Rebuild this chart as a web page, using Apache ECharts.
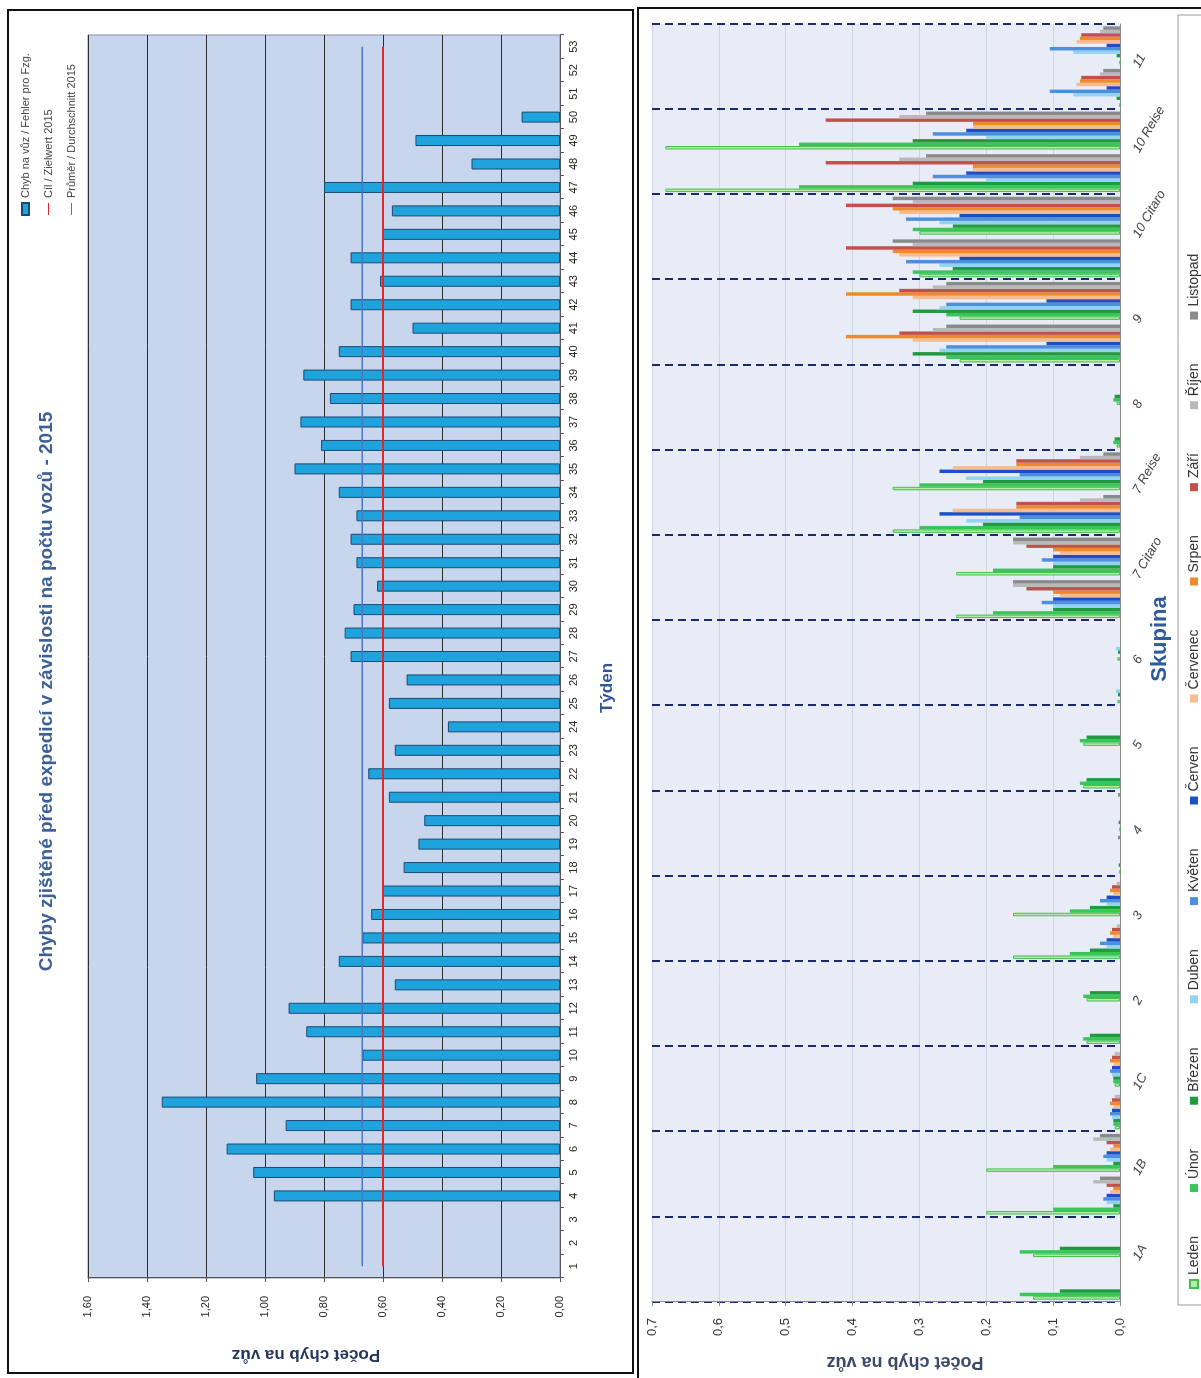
<!DOCTYPE html>
<html>
<head>
<meta charset="utf-8">
<script src="https://cdn.jsdelivr.net/npm/echarts@6/dist/echarts.min.js"></script>
<style>
  html, body { margin: 0; padding: 0; background: #fff; width: 1201px; height: 1378px; overflow: hidden; }
  .panel { position: absolute; box-sizing: border-box; border: 2px solid #111; background: #fff; }
  #panelA { left: 7px; top: 9px; width: 627px; height: 1365px; }
  #panelB { left: 637px; top: 7px; width: 600px; height: 1400px; }
  /* both charts are laid out landscape and turned a quarter turn counter-clockwise */
  .rot { position: absolute; transform-origin: 0 0; transform: rotate(-90deg); }
  #chartA { left: 10px; top: 1371px; width: 1359px; height: 621px; }
  #chartB { left: 639px; top: 1378px; width: 1368px; height: 562px; }
</style>
</head>
<body>
<div class="panel" id="panelA"></div>
<div class="panel" id="panelB"></div>
<div class="rot" id="chartA"></div>
<div class="rot" id="chartB"></div>
<script>
// ---------- weekly errors per car, 2015 ----------
const weeks = ['1','2','3','4','5','6','7','8','9','10','11','12','13','14','15','16','17','18',
  '19','20','21','22','23','24','25','26','27','28','29','30','31','32','33','34','35','36',
  '37','38','39','40','41','42','43','44','45','46','47','48','49','50','51','52','53'];
const errorsPerCar = [null, null, null, 0.97, 1.04, 1.13, 0.93, 1.35, 1.03, 0.67, 0.86, 0.92,
  0.56, 0.75, 0.67, 0.64, 0.60, 0.53, 0.48, 0.46, 0.58, 0.65, 0.56, 0.38, 0.58, 0.52, 0.71,
  0.73, 0.70, 0.62, 0.69, 0.71, 0.69, 0.75, 0.90, 0.81, 0.88, 0.78, 0.87, 0.75, 0.50, 0.71,
  0.61, 0.71, 0.60, 0.57, 0.80, 0.30, 0.49, 0.13, null, null, null];
const targetValue = 0.60;   // Cíl / Zielwert 2015
const averageValue = 0.67;  // Průměr / Durchschnitt 2015
const weeklyAxis = { min: 0, max: 1.6, interval: 0.2 };

// ---------- errors per car by group and month ----------
const groups = ['1A','1B','1C','2','3','4','5','6','7 Citaro','7 Reise','8','9','10 Citaro','10 Reise','11'];
const slots = ['1A a','1A b','1B a','1B b','1C a','1C b','2 a','2 b','3 a','3 b','4 a','4 b','5 a','5 b',
  '6 a','6 b','7C a','7C b','7R a','7R b','8 a','8 b','9 a','9 b','10C a','10C b','10R a','10R b','11 a','11 b'];
const months = ['Leden','Únor','Březen','Duben','Květen','Červen','Červenec','Srpen','Září','Říjen','Listopad'];
const leden    = [0.13,0.13, 0.20,0.20, 0.008,0.008, 0.05,0.05, 0.16,0.16, 0,0, 0.055,0.055, 0.004,0.004, 0.245,0.245, 0.34,0.34, 0.005,0.005, 0.24,0.24, 0.30,0.30, 0.68,0.68, 0,0];
const unor     = [0.15,0.15, 0.10,0.10, 0.010,0.010, 0.055,0.055, 0.075,0.075, 0,0, 0.06,0.06, 0,0, 0.19,0.19, 0.30,0.30, 0.010,0.010, 0.26,0.26, 0.31,0.31, 0.48,0.48, 0,0];
const brezen   = [0.09,0.09, 0.01,0.01, 0.010,0.010, 0.045,0.045, 0.045,0.045, 0.002,0.002, 0.05,0.05, 0.003,0.003, 0.10,0.10, 0.205,0.205, 0.008,0.008, 0.31,0.31, 0.25,0.25, 0.31,0.31, 0.005,0.005];
const duben    = [0,0, 0.02,0.02, 0.012,0.012, 0,0, 0.02,0.02, 0,0, 0,0, 0.006,0.006, 0.10,0.10, 0.23,0.23, 0,0, 0.27,0.27, 0.27,0.27, 0.20,0.20, 0.07,0.07];
const kveten   = [0,0, 0.025,0.025, 0.015,0.015, 0,0, 0.03,0.03, 0,0, 0,0, 0,0, 0.117,0.117, 0.15,0.15, 0,0, 0.26,0.26, 0.32,0.32, 0.28,0.28, 0.105,0.105];
const cerven   = [0,0, 0.02,0.02, 0.012,0.012, 0,0, 0.02,0.02, 0,0, 0,0, 0,0, 0.10,0.10, 0.27,0.27, 0,0, 0.11,0.11, 0.24,0.24, 0.23,0.23, 0.02,0.02];
const cervenec = [0,0, 0.015,0.015, 0.010,0.010, 0,0, 0.01,0.01, 0,0, 0,0, 0,0, 0.09,0.09, 0.25,0.25, 0,0, 0.31,0.31, 0.33,0.33, 0.22,0.22, 0.065,0.065];
const srpen    = [0,0, 0.01,0.01, 0.015,0.015, 0,0, 0.015,0.015, 0,0, 0,0, 0,0, 0.10,0.10, 0.155,0.155, 0,0, 0.41,0.41, 0.34,0.34, 0.22,0.22, 0.06,0.06];
const zari     = [0,0, 0.02,0.02, 0.012,0.012, 0,0, 0.012,0.012, 0,0, 0,0, 0,0, 0.14,0.14, 0.155,0.155, 0,0, 0.33,0.33, 0.41,0.41, 0.44,0.44, 0.058,0.058];
const rijen    = [0,0, 0.04,0.04, 0.008,0.008, 0,0, 0.005,0.005, 0,0, 0,0, 0,0, 0.16,0.16, 0.06,0.06, 0,0, 0.28,0.28, 0.31,0.31, 0.33,0.33, 0.03,0.03];
const listopad = [0,0, 0.03,0.03, 0,0, 0,0, 0,0, 0.003,0.003, 0,0, 0,0, 0.16,0.16, 0.025,0.025, 0,0, 0.26,0.26, 0.34,0.34, 0.29,0.29, 0.025,0.025];
const monthValues = [leden, unor, brezen, duben, kveten, cerven, cervenec, srpen, zari, rijen, listopad];
const monthColors = ['#b8ecae','#39c55a','#1f9a3c','#93d3f2','#4d8fdc','#1c4fc6',
  '#f6bc90','#ee8a2c','#c2504c','#b9b9b9','#8a8a8a'];
const groupAxis = { min: 0, max: 0.7, interval: 0.1 };

const FONT = '"Liberation Sans", Arial, sans-serif';
const LINE_ICON = 'path://M0,0 L24,0 L24,2 L0,2 Z';

// ---------- left chart ----------
const chartA = echarts.init(document.getElementById('chartA'), null, { renderer: 'canvas' });
chartA.setOption({
  animation: false,
  textStyle: { fontFamily: FONT },
  title: {
    text: 'Chyby zjištěné před expedicí v závislosti na počtu vozů - 2015',
    left: 'center', top: 22,
    textStyle: { fontSize: 19, fontWeight: 'bold', color: '#3b5f96', fontFamily: FONT }
  },
  legend: {
    orient: 'vertical', left: 1150, top: 5, itemGap: 12,
    itemWidth: 12, itemHeight: 7,
    textStyle: { fontSize: 11, color: '#444', fontFamily: FONT },
    data: [
      { name: 'Chyb na vůz / Fehler pro Fzg.', icon: 'rect' },
      { name: 'Cíl / Zielwert 2015', icon: LINE_ICON },
      { name: 'Průměr / Durchschnitt 2015', icon: LINE_ICON }
    ]
  },
  grid: { left: 93, right: 23, top: 78, bottom: 71, show: true,
          backgroundColor: '#c7d6ed', borderColor: '#8090a8', borderWidth: 1 },
  xAxis: {
    type: 'category', data: weeks,
    axisLine: { lineStyle: { color: '#555' } },
    axisTick: { show: true, length: 4, lineStyle: { color: '#555' } },
    axisLabel: { interval: 0, fontSize: 11, color: '#222', margin: 8 }
  },
  yAxis: {
    type: 'value', min: weeklyAxis.min, max: weeklyAxis.max, interval: weeklyAxis.interval,
    axisLine: { show: true, lineStyle: { color: '#555' } },
    axisTick: { show: true, length: 4 },
    axisLabel: { fontSize: 11, color: '#222', margin: 18,
                 formatter: v => v.toFixed(2).replace('.', ',') },
    splitLine: { lineStyle: { color: '#2e2e2e', width: 1 } }
  },
  graphic: [
    { type: 'text', x: 16, y: 296, rotation: Math.PI / 2,
      style: { text: 'Počet chyb na vůz', fill: '#25385c', font: 'bold 17px ' + FONT,
               align: 'center', verticalAlign: 'middle' } },
    { type: 'text', x: 683, y: 597,
      style: { text: 'Týden', fill: '#2f5597', font: 'bold 17px ' + FONT,
               align: 'center', verticalAlign: 'middle' } }
  ],
  series: [
    { name: 'Chyb na vůz / Fehler pro Fzg.', type: 'bar', data: errorsPerCar, barWidth: 11,
      itemStyle: { color: '#1ea3dd', borderColor: '#1b4a72', borderWidth: 1 } },
    { name: 'Cíl / Zielwert 2015', type: 'line', symbol: 'none', z: 5,
      data: [[weeks[0], targetValue], [weeks[weeks.length - 1], targetValue]],
      itemStyle: { color: '#e3262a' }, lineStyle: { color: '#e3262a', width: 2 } },
    { name: 'Průměr / Durchschnitt 2015', type: 'line', symbol: 'none', z: 4,
      data: [[weeks[0], averageValue], [weeks[weeks.length - 1], averageValue]],
      itemStyle: { color: '#4a76c6' }, lineStyle: { color: '#4a76c6', width: 1.5 } }
  ]
});

// ---------- right chart ----------
const chartB = echarts.init(document.getElementById('chartB'), null, { renderer: 'canvas' });
chartB.setOption({
  animation: false,
  textStyle: { fontFamily: FONT },
  grid: { left: 76, right: 14, top: 13, bottom: 81, show: true,
          backgroundColor: '#e7ecf6', borderWidth: 0 },
  legend: {
    left: 84, top: 543, itemGap: 44, itemWidth: 8, itemHeight: 8, icon: 'rect',
    textStyle: { fontSize: 14, color: '#333', fontFamily: FONT },
    data: months
  },
  xAxis: [
    { type: 'category', data: slots,
      axisLine: { show: true, lineStyle: { color: '#8a8a8a' } },
      axisTick: { show: false }, axisLabel: { show: false } },
    { type: 'category', data: groups, position: 'bottom',
      axisLine: { show: false }, axisTick: { show: false },
      axisLabel: { interval: 0, rotate: -30, fontSize: 13, fontStyle: 'italic',
                   color: '#444', margin: 16 },
      splitLine: { show: true, interval: 0,
                   lineStyle: { color: '#1d2a6a', type: [8, 5], width: 2 } } }
  ],
  yAxis: {
    type: 'value', min: groupAxis.min, max: groupAxis.max, interval: groupAxis.interval,
    axisLine: { show: true, lineStyle: { color: '#8a8a8a' } },
    axisTick: { show: true, length: 4 },
    axisLabel: { fontSize: 13, color: '#333', margin: 16,
                 formatter: v => v.toFixed(1).replace('.', ',') },
    splitLine: { lineStyle: { color: '#cfd5e0' } }
  },
  graphic: [
    { type: 'rect', z: -1, shape: { x: 73, y: 539, width: 1290, height: 40 },
      style: { fill: '#fff', stroke: '#9a9a9a', lineWidth: 1 } },
    { type: 'text', x: 16, y: 266, rotation: Math.PI / 2, z: 10,
      style: { text: 'Počet chyb na vůz', fill: '#3b4a6b', font: 'bold 18px ' + FONT,
               align: 'center', verticalAlign: 'middle' } },
    { type: 'text', x: 739, y: 521, z: 10,
      style: { text: 'Skupina', fill: '#2e5a9e', font: 'bold 22px ' + FONT,
               align: 'center', verticalAlign: 'middle' } }
  ],
  series: months.map((m, i) => ({
    name: m, type: 'bar', xAxisIndex: 0, data: monthValues[i],
    barGap: '0%', barCategoryGap: '11%',
    itemStyle: i === 0
      ? { color: monthColors[i], borderColor: '#45bf4c', borderWidth: 1 }
      : { color: monthColors[i] }
  }))
});
</script>
</body>
</html>
